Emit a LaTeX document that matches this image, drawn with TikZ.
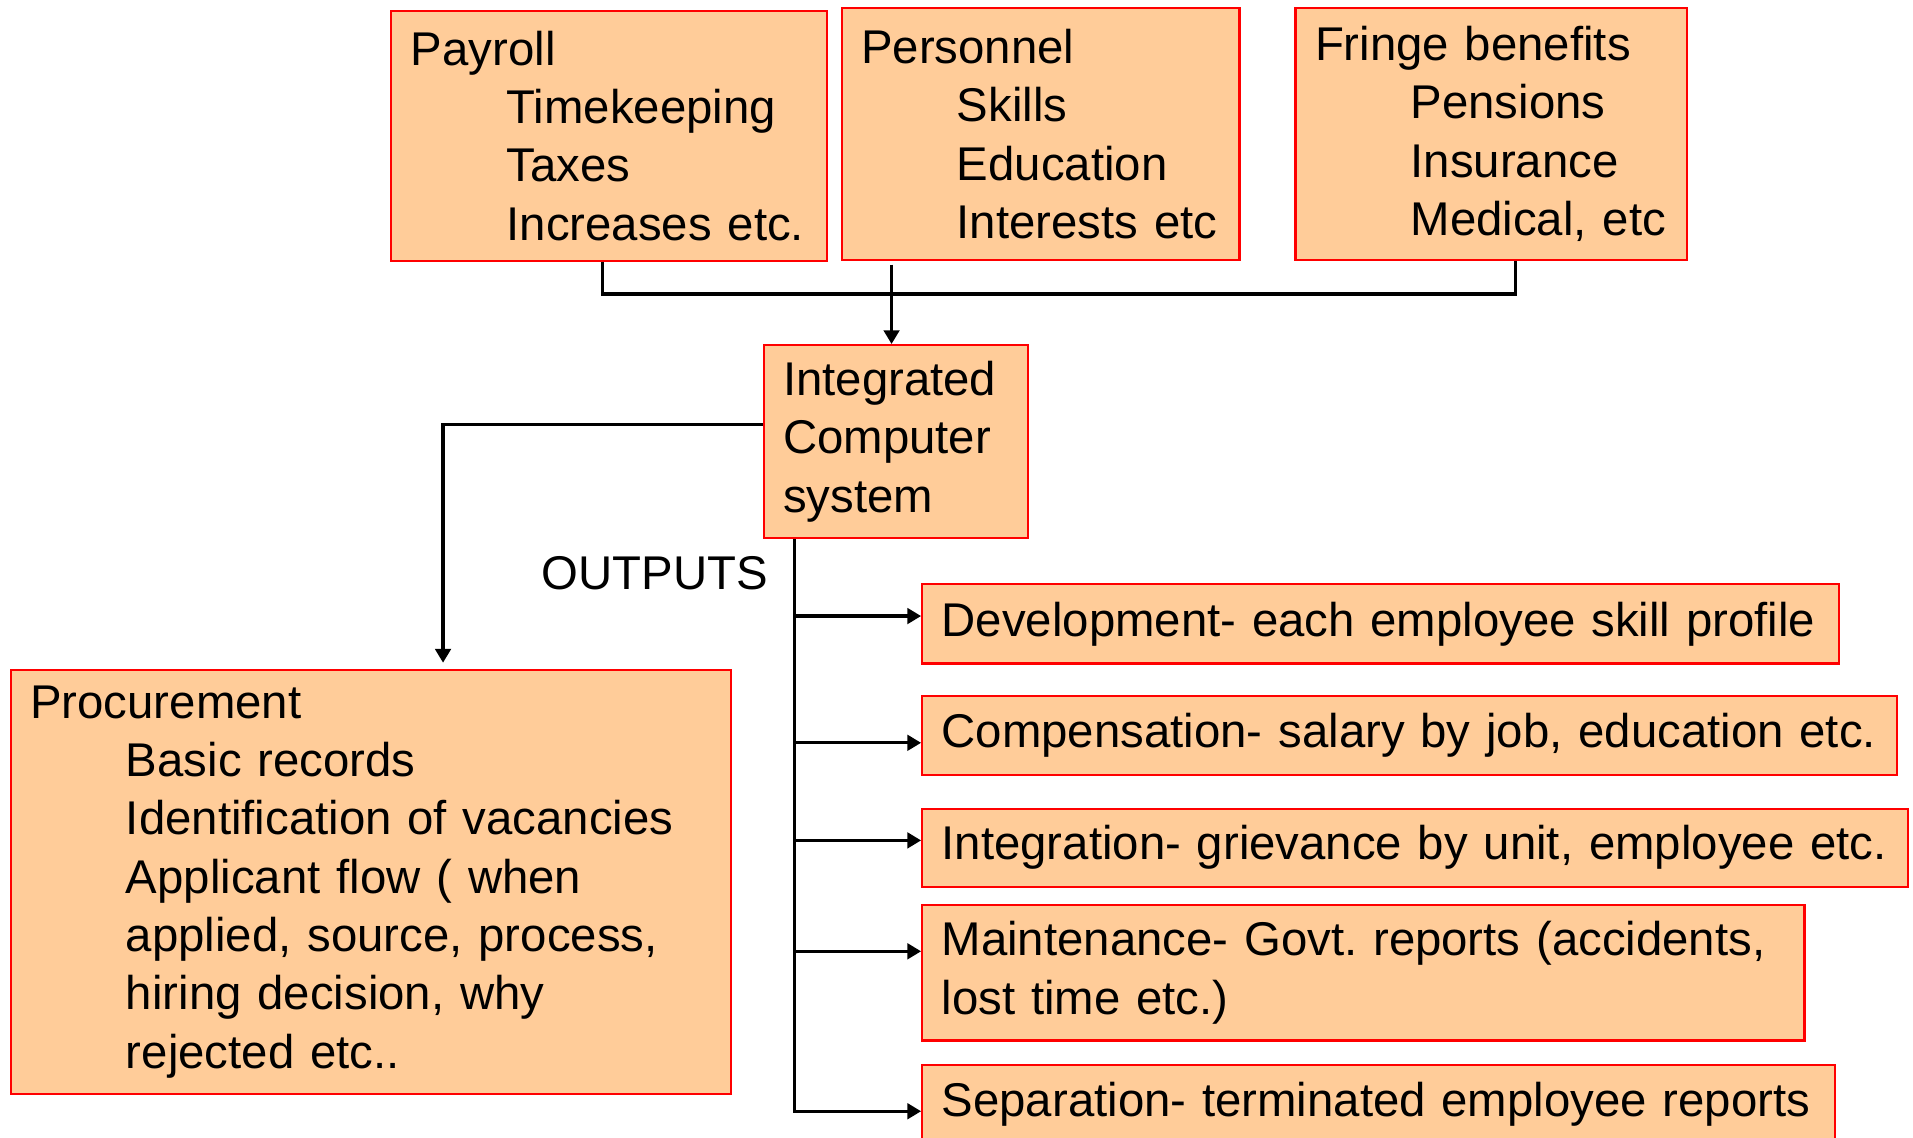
\documentclass[tikz,border=0pt]{standalone}
\usepackage{fontspec}
\setmainfont{Liberation Sans}
\usetikzlibrary{arrows.meta,positioning}
\definecolor{boxfill}{RGB}{255,204,153}
\definecolor{boxred}{RGB}{255,0,0}
\newcommand{\ind}{\hspace*{0.98cm}}
\frenchspacing
\begin{document}
\begin{tikzpicture}[x=0.0125cm,y=-0.0125cm,
  box/.style = {draw=boxred, fill=boxfill, line width=0.6pt, inner xsep=0.2cm, inner ysep=0pt, align=left, anchor=north west, font=\fontsize{13.8}{17}\selectfont},
  link/.style = {line width=0.95pt},
  arrow/.style = {line width=0.95pt, -{Triangle[length=4pt,width=4.5pt]}}]
\useasboundingbox (0,0) rectangle (1568,932);
% inputs
\node[box, text width=4.0625cm, minimum height=2.5625cm] (pay) at (320,8) {Payroll\\\ind Timekeeping\\\ind Taxes\\\ind Increases etc.};
\node[box, text width=3.675cm, minimum height=2.575cm] (pers) at (689,6) {Personnel\\\ind Skills\\\ind Education\\\ind Interests etc};
\node[box, text width=3.6125cm, minimum height=2.575cm] (fringe) at (1061,6) {Fringe benefits\\\ind Pensions\\\ind Insurance\\\ind Medical, etc};
% system
\node[box, text width=2.3125cm, minimum height=1.975cm] (ics) at (625,282) {Integrated\\Computer\\system};
\node[box, text width=6.975cm, minimum height=4.35cm] (proc) at (8,548) {Procurement\\\ind Basic records\\\ind Identification of vacancies\\\ind Applicant flow ( when\\\ind applied, source, process,\\\ind hiring decision, why\\\ind rejected etc..};
% outputs
\node[anchor=east, inner sep=0pt, font=\fontsize{13.8}{17}\selectfont] (outputs) at (630,470) {OUTPUTS};
\node[box, text width=8.9875cm, minimum height=0.8125cm] (dev) at (755,478) {Development- each employee skill profile};
\node[box, text width=9.5875cm, minimum height=0.8cm] (comp) at (755,570) {Compensation- salary by job, education etc.};
\node[box, text width=9.7cm, minimum height=0.8cm] (integ) at (755,662) {Integration- grievance by unit, employee etc.};
\node[box, text width=8.6375cm, minimum height=1.3875cm] (maint) at (755,741) {Maintenance- Govt. reports (accidents,\\lost time etc.)};
\node[box, text width=8.95cm, minimum height=0.8cm] (sep) at (755,872) {Separation- terminated employee reports};
\coordinate (bus) at (730,241);
\coordinate (icsin) at ([xshift=-0.045cm]ics.north);
\coordinate (trunk) at ([xshift=0.325cm]ics.south west);
\coordinate (devin) at ([yshift=0.08cm]dev.west);
\coordinate (compin) at ([yshift=-0.075cm]comp.west);
\coordinate (integin) at ([yshift=0.075cm]integ.west);
\coordinate (maintin) at ([yshift=0.22cm]maint.west);
\coordinate (sepin) at ([yshift=-0.075cm]sep.west);

% inputs into the system
\draw[link] ([xshift=-0.07cm]pay.south) |- (bus) -| ([xshift=0.245cm]fringe.south);
\draw[arrow] ([yshift=-0.04cm]icsin |- pers.south) -- (icsin);
% system to procurement
\draw[arrow] ([yshift=0.175cm]ics.west) -| ([xshift=0.74cm,yshift=0.06cm]proc.north);
% system to the reports
\draw[arrow] (trunk) |- (sepin);
\draw[arrow] (trunk |- devin) -- (devin);
\draw[arrow] (trunk |- compin) -- (compin);
\draw[arrow] (trunk |- integin) -- (integin);
\draw[arrow] (trunk |- maintin) -- (maintin);
\end{tikzpicture}
\end{document}
